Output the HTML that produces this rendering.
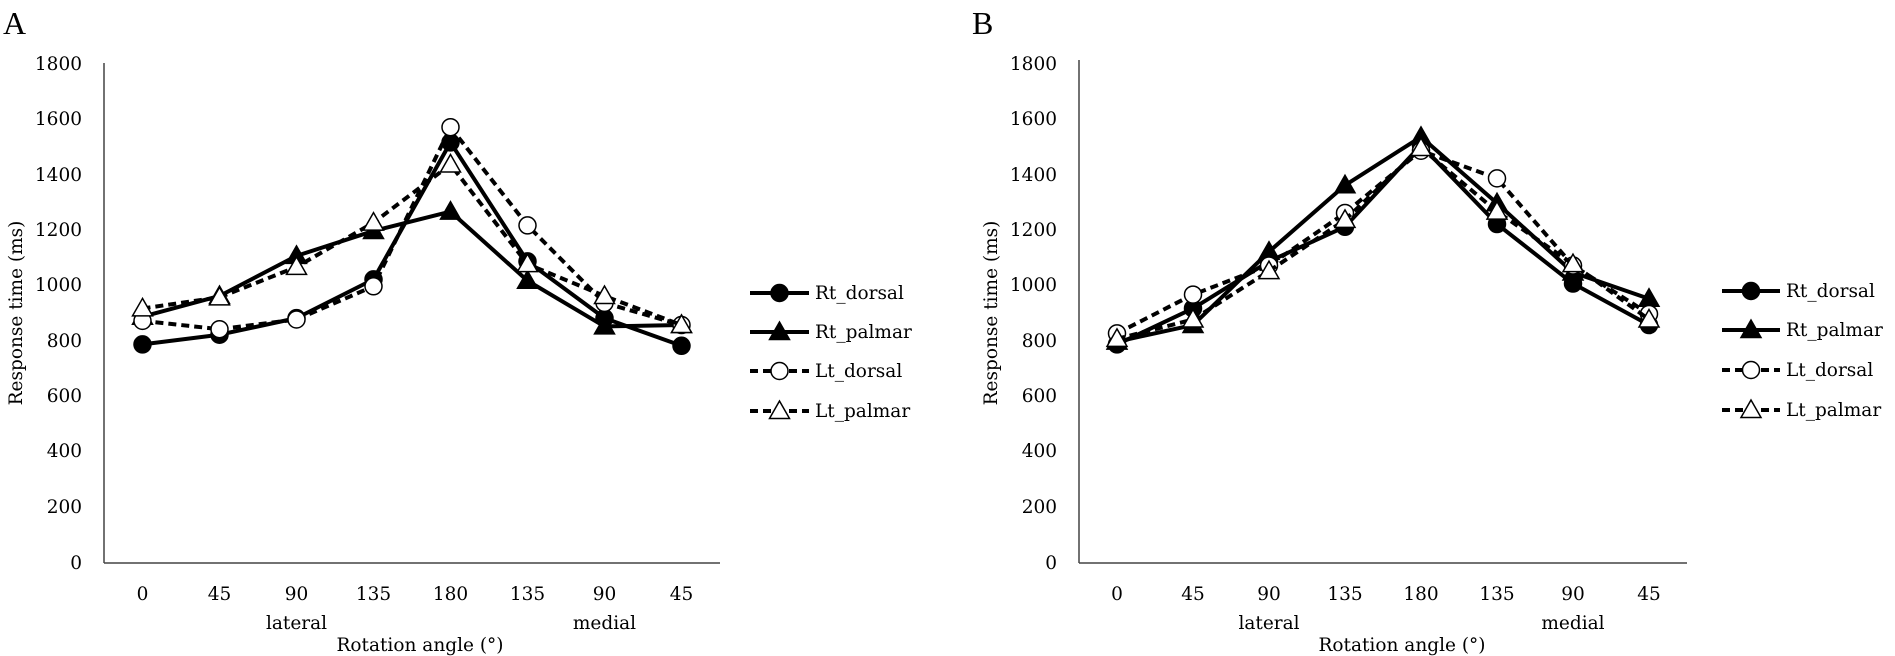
<!DOCTYPE html>
<html><head><meta charset="utf-8"><style>
html,body{margin:0;padding:0;background:#fff;}
svg{display:block;font-family:"DejaVu Serif","Liberation Serif",serif;}
</style></head><body>
<svg id="s" width="1895" height="656" viewBox="0 0 1895 656" xmlns="http://www.w3.org/2000/svg">
<rect width="1895" height="656" fill="#fff"/>
<text x="3" y="34" font-size="32" font-family="Liberation Serif, serif">A</text>
<text x="972" y="34" font-size="32" font-family="Liberation Serif, serif">B</text>
<g font-size="18.5" text-anchor="end" fill="#000">
<text x="82" y="70">1800</text><text x="82" y="125">1600</text><text x="82" y="181">1400</text><text x="82" y="236">1200</text><text x="82" y="291">1000</text><text x="82" y="347">800</text><text x="82" y="402">600</text><text x="82" y="457">400</text><text x="82" y="513">200</text><text x="82" y="569">0</text>
<text x="1057" y="70">1800</text><text x="1057" y="125">1600</text><text x="1057" y="181">1400</text><text x="1057" y="236">1200</text><text x="1057" y="291">1000</text><text x="1057" y="347">800</text><text x="1057" y="402">600</text><text x="1057" y="457">400</text><text x="1057" y="513">200</text><text x="1057" y="569">0</text>
</g>
<text transform="translate(22,313) rotate(-90)" font-size="18.5" text-anchor="middle">Response time (ms)</text>
<text transform="translate(997,313) rotate(-90)" font-size="18.5" text-anchor="middle">Response time (ms)</text>
<g font-size="18.5" text-anchor="middle">
<text x="142.5" y="600">0</text><text x="219.5" y="600">45</text><text x="296.5" y="600">90</text><text x="373.5" y="600">135</text><text x="450.5" y="600">180</text><text x="527.5" y="600">135</text><text x="604.5" y="600">90</text><text x="681.5" y="600">45</text>
<text x="296.5" y="629">lateral</text><text x="604.5" y="629">medial</text>
<text x="420" y="651">Rotation angle (°)</text>
<text x="1117" y="600">0</text><text x="1193" y="600">45</text><text x="1269" y="600">90</text><text x="1345" y="600">135</text><text x="1421" y="600">180</text><text x="1497" y="600">135</text><text x="1573" y="600">90</text><text x="1649" y="600">45</text>
<text x="1269" y="629">lateral</text><text x="1573" y="629">medial</text>
<text x="1402" y="651">Rotation angle (°)</text>
</g>
<g stroke="#444" stroke-width="1.5" fill="none">
<line x1="104" y1="63" x2="104" y2="563"/><line x1="104" y1="563" x2="720" y2="563"/>
<line x1="1079" y1="60" x2="1079" y2="563"/><line x1="1079" y1="563" x2="1687" y2="563"/>
</g>
<g font-size="18.5">
<text x="815" y="299">Rt_dorsal</text><text x="815" y="338">Rt_palmar</text><text x="815" y="377">Lt_dorsal</text><text x="815" y="417">Lt_palmar</text>
<text x="1786" y="297">Rt_dorsal</text><text x="1786" y="336">Rt_palmar</text><text x="1786" y="376">Lt_dorsal</text><text x="1786" y="416">Lt_palmar</text>
</g>
<g id="g"></g>
</svg>
<script>
var NS="http://www.w3.org/2000/svg",g=document.getElementById("g");
function el(t,a){var e=document.createElementNS(NS,t);for(var k in a)e.setAttribute(k,a[k]);g.appendChild(e);return e;}
function mk(type,x,y){
 if(type[0]=="c"){el("circle",{cx:x,cy:y,r:8.5,fill:type=="cf"?"#000":"#fff",stroke:"#000","stroke-width":1.5});}
 else{var s=10;el("polygon",{points:(x)+","+(y-s)+" "+(x-s)+","+(y+s*0.75)+" "+(x+s)+","+(y+s*0.75),fill:type=="tf"?"#000":"#fff",stroke:"#000","stroke-width":1.5});}
}
function Y(v){return 563-v*0.2767;}
var series=[["cf",0],["tf",0],["co",1],["to",1]];
var A=[[790,825,885,1025,1520,1090,885,785],[890,965,1110,1200,1270,1020,855,860],[875,845,880,1000,1575,1220,940,860],[920,960,1070,1230,1440,1080,965,860]];
var B=[[790,920,1090,1215,1510,1225,1010,860],[800,860,1125,1365,1540,1300,1050,955],[830,970,1075,1265,1490,1390,1075,900],[810,880,1055,1240,1500,1270,1080,880]];
function draw(D,x0,dx){
 for(var s=0;s<4;s++){var p=[];for(var i=0;i<8;i++)p.push((x0+dx*i)+","+Y(D[s][i]));
  var a={points:p.join(" "),fill:"none",stroke:"#000","stroke-width":4,"stroke-linejoin":"round"};
  if(series[s][1])a["stroke-dasharray"]="8,5";
  el("polyline",a);
  for(var i=0;i<8;i++)mk(series[s][0],x0+dx*i,Y(D[s][i]));}
}
draw(A,142.5,77);draw(B,1117,76);
function leg(x1,x2,ys){for(var s=0;s<4;s++){var a={x1:x1,x2:x2,y1:ys[s],y2:ys[s],stroke:"#000","stroke-width":4};if(series[s][1])a["stroke-dasharray"]="8,5";el("line",a);mk(series[s][0],(x1+x2)/2,ys[s]);}}
leg(750,809,[293,332,371,411]);leg(1722,1780,[291,330,370,410]);
</script>
</body></html>
